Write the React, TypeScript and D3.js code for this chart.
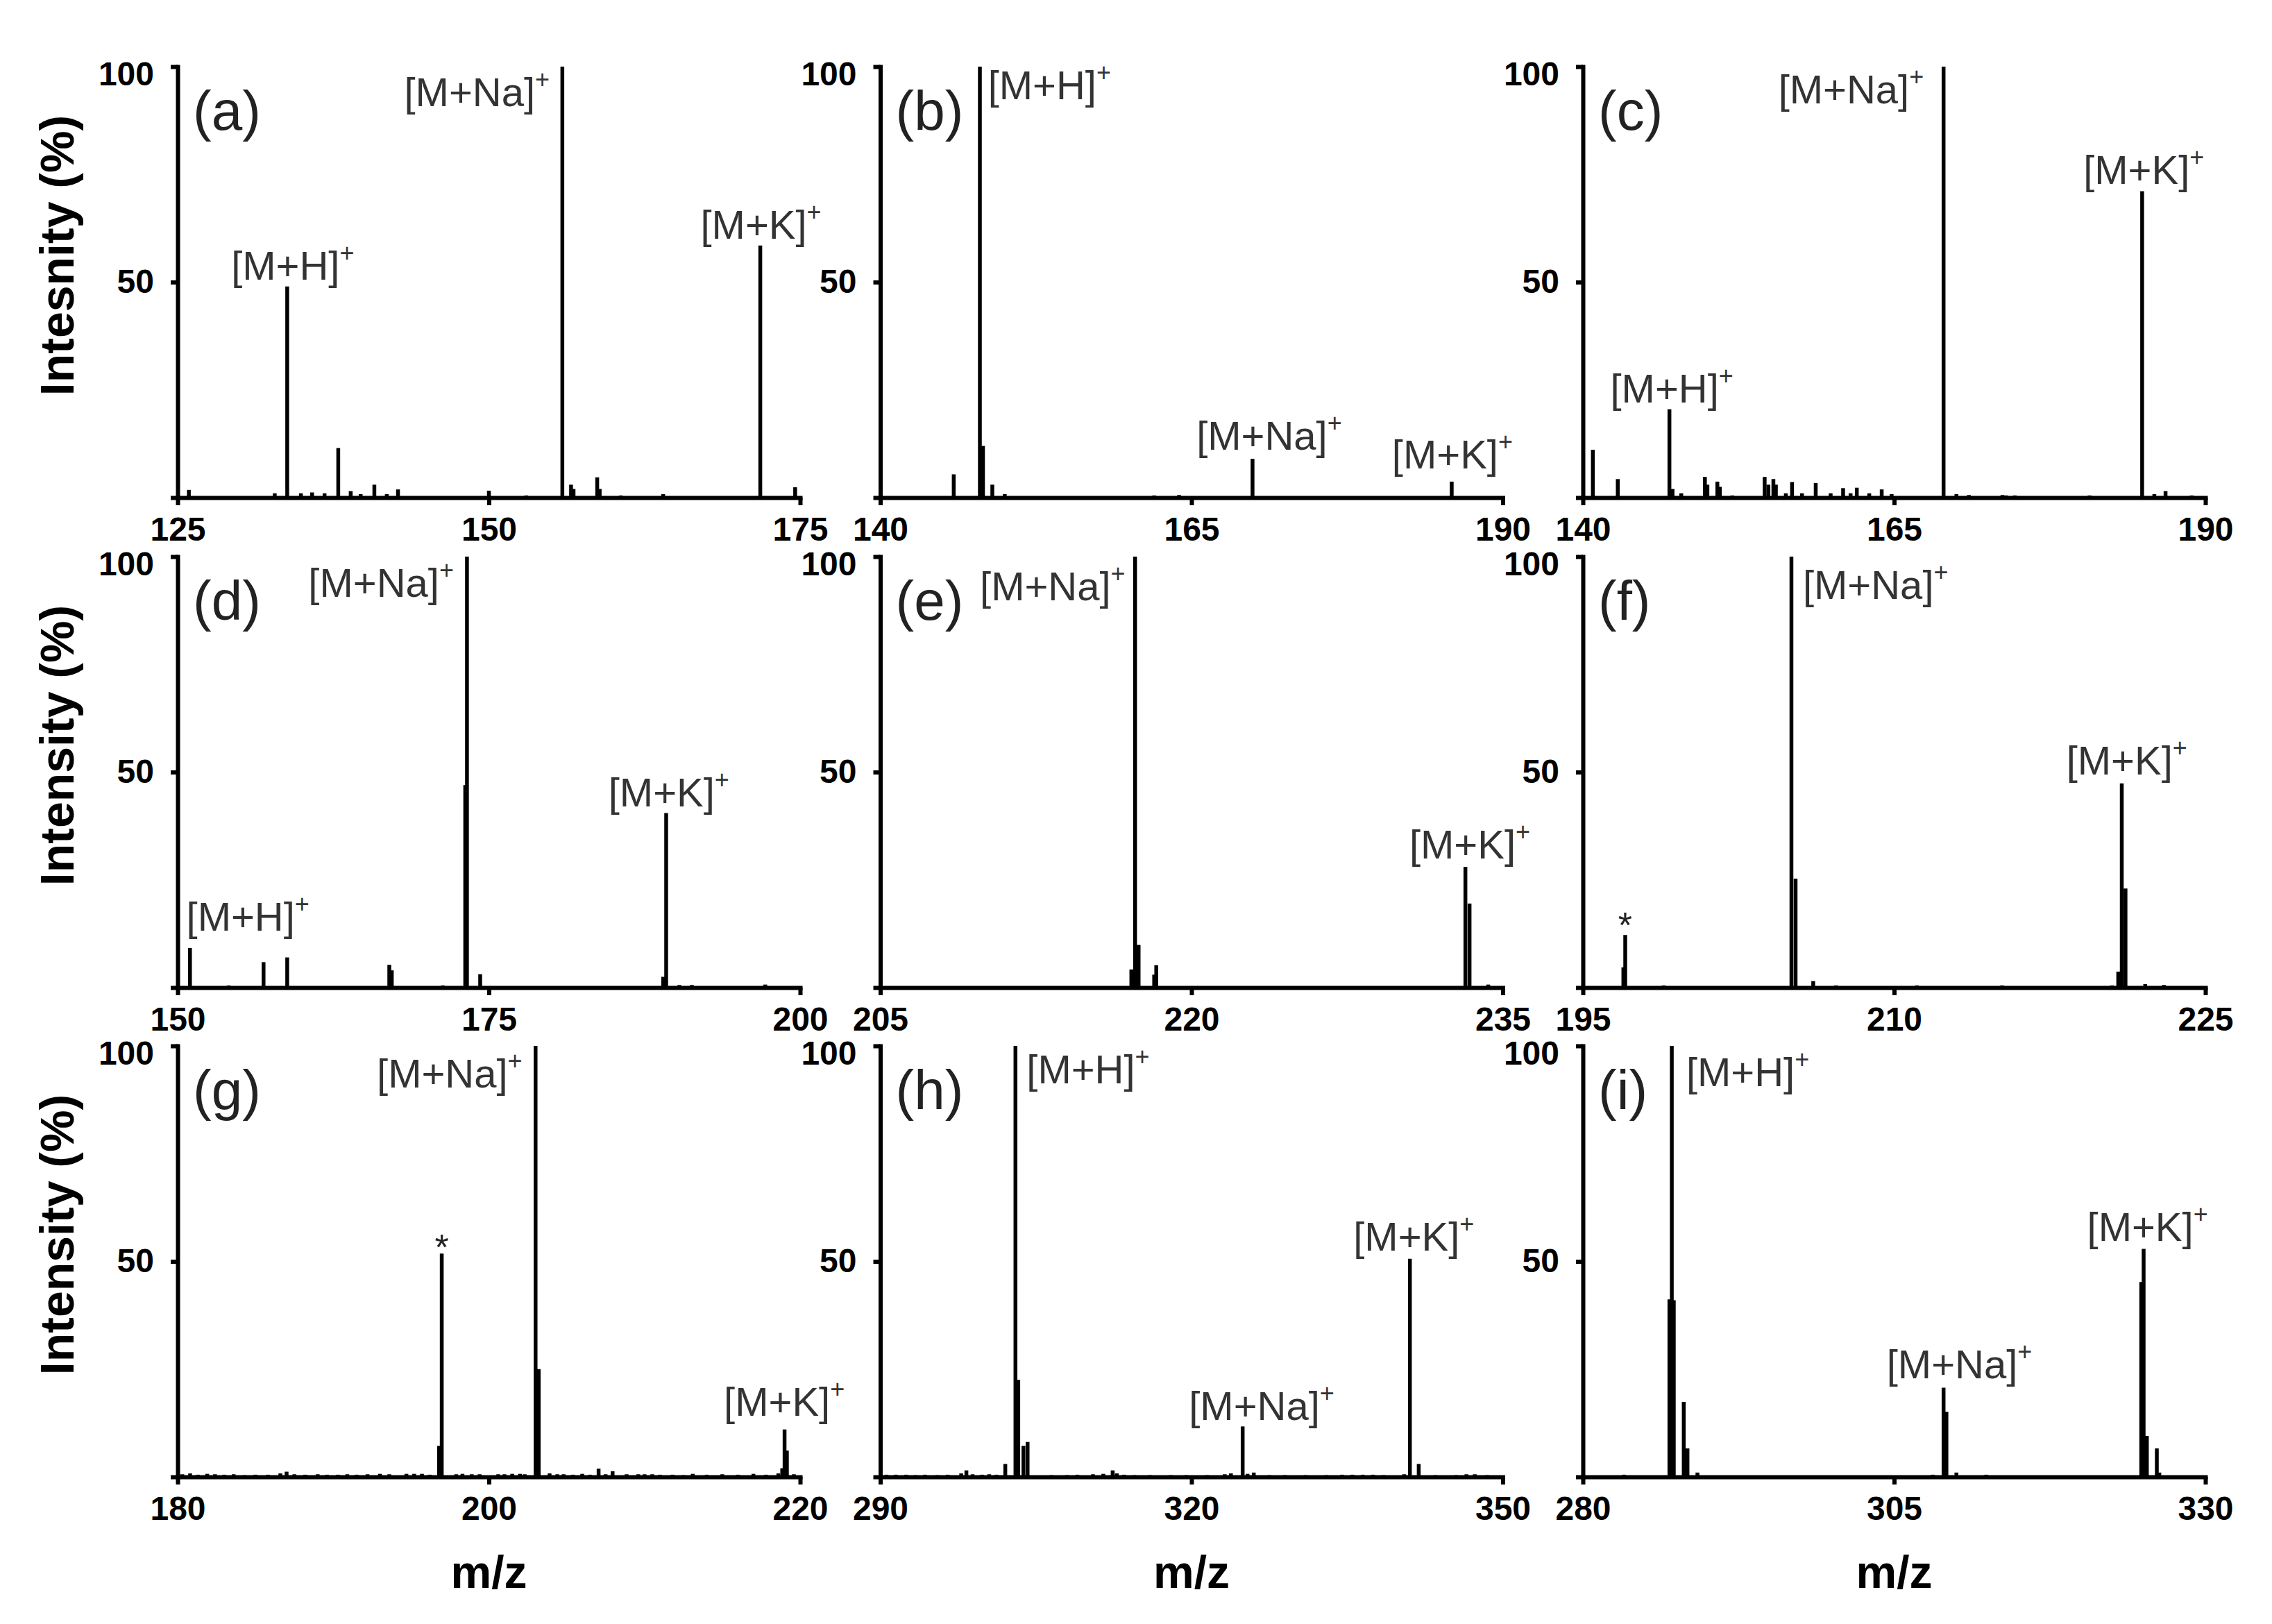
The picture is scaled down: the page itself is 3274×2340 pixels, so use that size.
import React, { useEffect, useRef } from "react";
import * as d3 from "d3";

const WIDTH = 3274;
const HEIGHT = 2340;
const FONT = "'Liberation Sans', Arial, sans-serif";

// panel letters, m/z ranges and tick values
const panelNames = ["(a)", "(b)", "(c)", "(d)", "(e)", "(f)", "(g)", "(h)", "(i)"];
const xDomains = [
  [125, 175], [140, 190], [140, 190],
  [150, 200], [205, 235], [195, 225],
  [180, 220], [290, 350], [280, 330],
];
const xTickValues = [
  [125, 150, 175], [140, 165, 190], [140, 165, 190],
  [150, 175, 200], [205, 220, 235], [195, 210, 225],
  [180, 200, 220], [290, 320, 350], [280, 305, 330],
];
const yTickValues = [0, 50, 100];
const yTitles = ["Intesnity (%)", "Intensity (%)", "Intensity (%)"];
const xTitle = "m/z";

// peaks: [m/z, relative intensity %]
const peaksA = [
  [125.9, 1.8], [132.8, 1.0], [133.8, 49.0], [134.9, 1.0], [135.8, 1.2], [136.8, 1.0],
  [137.9, 11.5], [138.9, 1.5], [139.7, 0.8], [140.8, 3.0], [141.8, 0.8], [142.7, 1.9],
  [150.0, 1.6], [153.0, 0.5], [155.9, 100], [156.6, 3.0], [156.8, 2.0], [158.7, 4.7],
  [158.9, 2.0], [160.6, 0.5], [164.0, 0.8], [171.8, 58.5], [174.6, 2.4],
];
const peaksB = [
  [145.9, 5.4], [148.0, 100], [148.25, 12], [149.0, 3.0], [150.0, 0.8], [162.0, 0.5],
  [164.0, 0.6], [169.9, 9.0], [185.9, 3.7],
];
const peaksC = [
  [140.8, 11.1], [142.8, 4.3], [146.95, 20.5], [147.2, 2.0], [147.9, 1.0], [149.8, 4.8],
  [150.0, 3.0], [150.8, 3.7], [151.0, 2.5], [152.0, 0.5], [154.6, 4.8], [154.9, 3.0],
  [155.3, 4.3], [155.5, 3.0], [156.3, 1.0], [156.8, 3.6], [157.6, 1.0], [158.7, 3.4],
  [159.9, 1.0], [160.9, 2.2], [161.5, 1.0], [162.0, 2.3], [163.0, 1.0], [164.0, 1.9],
  [164.8, 0.8], [168.97, 100], [170.0, 0.8], [171.0, 0.6], [173.7, 0.6], [174.0, 0.5],
  [174.7, 0.5], [180.7, 0.5], [184.92, 71.1], [185.9, 0.8], [186.8, 1.5], [188.9, 0.5],
];
const peaksD = [
  [150.99, 9.2], [154.1, 0.5], [156.9, 5.9], [158.8, 7.0], [167.0, 5.3], [167.2, 4.0],
  [171.3, 0.5], [173.1, 47], [173.24, 100], [174.3, 3.1], [189.0, 2.5], [189.24, 40.5],
  [190.3, 0.6], [191.3, 0.6], [197.2, 0.7],
];
const peaksE = [
  [217.1, 4.2], [217.28, 100], [217.45, 9.9], [218.2, 3.0], [218.3, 5.2],
  [233.2, 28], [233.4, 19.5], [234.3, 0.7],
];
const peaksF = [
  [196.95, 4.7], [197.04, 12.2], [198.9, 0.5], [205.05, 100], [205.25, 25.3], [206.1, 1.5],
  [207.2, 0.5], [211.1, 0.5], [215.2, 0.5], [220.5, 0.5], [220.8, 3.7], [220.97, 47.4],
  [221.15, 23], [222.1, 0.8], [223.0, 0.6],
];
const peaksG = [
  [180.3, 0.6], [180.8, 0.8], [181.3, 0.5], [181.9, 0.7], [182.4, 0.6], [183.0, 0.5],
  [183.6, 0.6], [184.3, 0.4], [185.0, 0.5], [185.8, 0.5], [186.6, 0.8], [187.0, 1.2],
  [187.5, 0.6], [188.2, 0.5], [189.0, 0.6], [189.6, 0.5], [190.3, 0.5], [190.9, 0.6],
  [191.5, 0.5], [192.2, 0.6], [193.0, 0.7], [193.6, 0.6], [194.7, 0.7], [195.2, 0.7],
  [195.7, 0.7], [196.2, 0.5], [196.8, 7.2], [196.97, 51.8], [197.9, 0.6], [198.3, 0.7],
  [198.9, 0.6], [199.4, 0.6], [200.6, 0.6], [201.0, 0.6], [201.5, 0.7], [202.0, 0.7],
  [202.3, 0.6], [203.0, 100], [203.2, 25], [203.9, 0.8], [204.4, 0.6], [204.8, 0.6],
  [205.4, 0.5], [206.0, 0.7], [206.5, 0.5], [207.05, 1.9], [207.5, 0.6], [207.95, 1.3],
  [208.85, 0.6], [209.6, 0.6], [210.0, 0.6], [210.5, 0.6], [211.0, 0.5], [211.8, 0.5],
  [212.5, 0.4], [213.1, 0.7], [214.0, 0.5], [215.0, 0.6], [216.0, 0.5], [217.0, 0.7],
  [217.8, 0.5], [218.6, 0.8], [218.85, 2.0], [219.0, 11], [219.15, 6.1], [219.6, 0.6],
];
const peaksH = [
  [290.6, 0.5], [291.5, 0.5], [292.5, 0.5], [293.4, 0.4], [294.3, 0.5], [295.5, 0.4],
  [296.5, 0.5], [297.8, 0.8], [298.3, 1.5], [298.9, 0.6], [299.8, 0.5], [300.5, 0.6],
  [301.2, 0.5], [302.05, 3.0], [303.03, 100], [303.3, 22.5], [303.8, 7.2], [304.2, 8.1],
  [306.5, 0.4], [308.0, 0.4], [309.0, 0.5], [310.5, 0.6], [311.5, 0.7], [312.4, 1.5],
  [312.8, 0.8], [313.5, 0.5], [314.5, 0.4], [316.0, 0.4], [318.0, 0.4], [319.5, 0.4],
  [321.5, 0.4], [323.2, 0.6], [323.8, 0.8], [324.93, 11.7], [325.4, 0.7], [326.0, 1.0],
  [327.5, 0.4], [329.0, 0.4], [331.0, 0.4], [333.0, 0.4], [334.5, 0.5], [335.5, 0.5],
  [336.5, 0.5], [337.5, 0.5], [338.5, 0.4], [340.5, 0.6], [341.05, 50.6], [341.9, 3.0],
  [343.5, 0.4], [345.5, 0.4], [346.5, 0.6], [347.3, 0.6], [348.5, 0.4],
];
const peaksI = [
  [283.3, 0.5], [286.95, 41.2], [287.14, 100], [287.3, 41], [288.1, 17.4], [288.4, 6.6],
  [289.2, 1.0], [308.1, 0.5], [308.97, 20.7], [309.2, 15.1], [310.0, 1.0], [312.4, 0.5],
  [324.85, 45.2], [325.04, 52.9], [325.3, 9.5], [326.1, 6.6], [326.3, 1.0],
];
const peakSets = [peaksA, peaksB, peaksC, peaksD, peaksE, peaksF, peaksG, peaksH, peaksI];

// ion labels: text start (m/z) and baseline (%)
const labelsA = [
  { ion: "[M+H]", mz: 129.3, at: 50.6 },
  { ion: "[M+Na]", mz: 143.2, at: 90.8 },
  { ion: "[M+K]", mz: 167.0, at: 60 },
];
const labelsB = [
  { ion: "[M+H]", mz: 148.65, at: 92.5 },
  { ion: "[M+Na]", mz: 165.4, at: 11.1 },
  { ion: "[M+K]", mz: 181.1, at: 6.8 },
];
const labelsC = [
  { ion: "[M+Na]", mz: 155.7, at: 91.5 },
  { ion: "[M+K]", mz: 180.2, at: 72.8 },
  { ion: "[M+H]", mz: 142.2, at: 22.1 },
];
const labelsD = [
  { ion: "[M+Na]", mz: 160.5, at: 90.7 },
  { ion: "[M+K]", mz: 184.6, at: 42 },
  { ion: "[M+H]", mz: 150.7, at: 13.2 },
];
const labelsE = [
  { ion: "[M+Na]", mz: 209.8, at: 89.9 },
  { ion: "[M+K]", mz: 230.5, at: 29.9 },
];
const labelsF = [
  { ion: "[M+Na]", mz: 205.6, at: 90.2 },
  { ion: "[M+K]", mz: 218.3, at: 49.4 },
];
const labelsG = [
  { ion: "[M+Na]", mz: 192.8, at: 90.4 },
  { ion: "[M+K]", mz: 215.1, at: 14.1 },
];
const labelsH = [
  { ion: "[M+H]", mz: 304.1, at: 91.3 },
  { ion: "[M+Na]", mz: 319.75, at: 13.2 },
  { ion: "[M+K]", mz: 335.6, at: 52.5 },
];
const labelsI = [
  { ion: "[M+H]", mz: 288.3, at: 90.6 },
  { ion: "[M+Na]", mz: 304.4, at: 22.9 },
  { ion: "[M+K]", mz: 320.5, at: 54.7 },
];
const labelSets = [labelsA, labelsB, labelsC, labelsD, labelsE, labelsF, labelsG, labelsH, labelsI];

// unidentified peaks marked with an asterisk
const starSets = [[], [], [], [], [], [{ mz: 197.04, at: 11.6 }], [{ mz: 196.97, at: 50.4 }], [], []];

// layout
const colLeft = [256, 1268.5, 2281];
const rowBottom = [717, 1423, 2128];
const plotW = 897;
const plotH = 621;

export default function App() {
  const svgRef = useRef<SVGSVGElement>(null);

  useEffect(() => {
    const svg = d3.select(svgRef.current);
    svg.selectAll("*").remove();
    svg.append("rect").attr("width", WIDTH).attr("height", HEIGHT).attr("fill", "#fff");

    panelNames.forEach((name, i) => {
      const col = i % 3;
      const row = Math.floor(i / 3);
      const left = colLeft[col];
      const bottom = rowBottom[row];

      const x = d3.scaleLinear().domain(xDomains[i]).range([left, left + plotW]);
      const y = d3.scaleLinear().domain([0, 100]).range([bottom, bottom - plotH]);

      const g = svg.append("g");

      // stick spectrum
      g.selectAll("line.peak")
        .data(peakSets[i])
        .join("line")
        .attr("class", "peak")
        .attr("x1", (d) => x(d[0]))
        .attr("x2", (d) => x(d[0]))
        .attr("y1", y(0))
        .attr("y2", (d) => y(d[1]))
        .attr("stroke", "#000")
        .attr("stroke-width", 5.5);

      // x axis
      const xa = g
        .append("g")
        .attr("transform", `translate(0,${bottom})`)
        .call(
          d3.axisBottom(x)
            .tickValues(xTickValues[i])
            .tickSize(11)
            .tickSizeOuter(0)
            .tickPadding(17)
            .tickFormat(d3.format("d"))
        );
      xa.select(".domain").attr("stroke-width", 6).attr("stroke-linecap", "square");
      xa.selectAll(".tick line").attr("stroke-width", 6);
      xa.selectAll(".tick text")
        .attr("font-family", FONT)
        .attr("font-weight", "bold")
        .attr("font-size", 48)
        .attr("fill", "#000");

      // y axis
      const ya = g
        .append("g")
        .attr("transform", `translate(${left},0)`)
        .call(
          d3.axisLeft(y)
            .tickValues(yTickValues)
            .tickSize(10)
            .tickSizeOuter(0)
            .tickPadding(24)
            .tickFormat((d) => (d === 0 ? "" : String(d)))
        );
      ya.select(".domain").attr("stroke-width", 6).attr("stroke-linecap", "square");
      ya.selectAll(".tick line").attr("stroke-width", 6);
      ya.selectAll(".tick text")
        .attr("font-family", FONT)
        .attr("font-weight", "bold")
        .attr("font-size", 48)
        .attr("fill", "#000")
        .attr("dy", (d) => (d === 100 ? "0.55em" : "0.32em"));

      // ion labels with superscript charge
      g.selectAll("text.ion")
        .data(labelSets[i])
        .join("text")
        .attr("class", "ion")
        .attr("x", (d) => x(d.mz))
        .attr("y", (d) => y(d.at))
        .attr("font-family", FONT)
        .attr("font-size", 58)
        .attr("fill", "#333")
        .each(function (d) {
          const t = d3.select(this);
          t.append("tspan").text(d.ion);
          t.append("tspan").attr("dy", -26).attr("font-size", 36).text("+");
        });

      g.selectAll("text.star")
        .data(starSets[i])
        .join("text")
        .attr("class", "star")
        .attr("x", (d) => x(d.mz))
        .attr("y", (d) => y(d.at))
        .attr("text-anchor", "middle")
        .attr("font-family", FONT)
        .attr("font-size", 52)
        .attr("fill", "#222")
        .text("*");

      // panel letter
      g.append("text")
        .attr("x", left + 22)
        .attr("y", bottom - plotH + 91)
        .attr("font-family", FONT)
        .attr("font-size", 80)
        .attr("fill", "#222")
        .text(name);

      if (col === 0) {
        g.append("text")
          .attr("transform", `translate(106,${bottom - plotH + 272}) rotate(-90)`)
          .attr("text-anchor", "middle")
          .attr("font-family", FONT)
          .attr("font-weight", "bold")
          .attr("font-size", 68)
          .text(yTitles[row]);
      }

      if (row === 2) {
        g.append("text")
          .attr("x", left + plotW / 2)
          .attr("y", 2288)
          .attr("text-anchor", "middle")
          .attr("font-family", FONT)
          .attr("font-weight", "bold")
          .attr("font-size", 66)
          .text(xTitle);
      }
    });
  }, []);

  return (
    <svg
      ref={svgRef}
      width={WIDTH}
      height={HEIGHT}
      style={{ position: "absolute", left: 0, top: 0, display: "block" }}
    />
  );
}
